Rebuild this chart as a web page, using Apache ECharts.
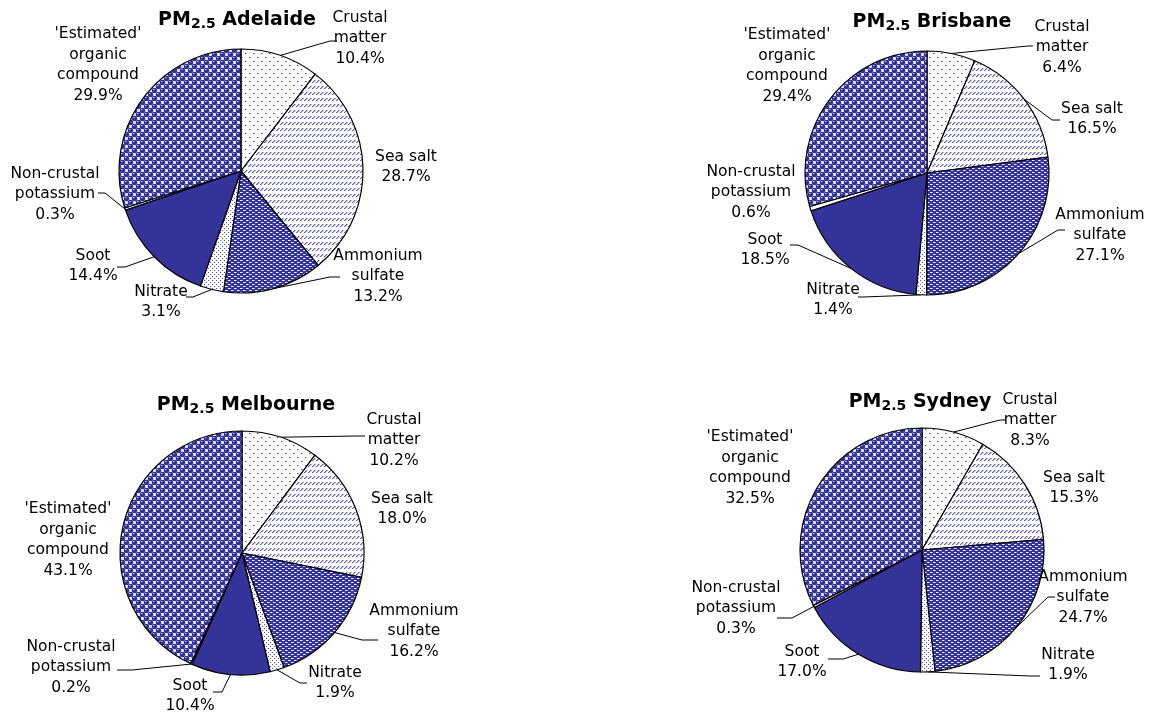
<!DOCTYPE html>
<html>
<head>
<meta charset="utf-8">
<title>PM2.5 composition</title>
<script src="https://cdn.jsdelivr.net/npm/echarts/dist/echarts.min.js"></script>
<style>
  html, body { margin: 0; padding: 0; background: #ffffff; }
  #chart { width: 1150px; height: 715px; }
</style>
</head>
<body>
<div id="chart"></div>
<script>
// PM2.5 composition (% of mass) for four Australian cities
const components = [
  "Crustal\nmatter",
  "Sea salt",
  "Ammonium\nsulfate",
  "Nitrate",
  "Soot",
  "Non-crustal\npotassium",
  "'Estimated'\norganic\ncompound"
];
const cities = ["Adelaide", "Brisbane", "Melbourne", "Sydney"];
const adelaide  = [10.4, 28.7, 13.2, 3.1, 14.4, 0.3, 29.9];
const brisbane  = [6.4, 16.5, 27.1, 1.4, 18.5, 0.6, 29.4];
const melbourne = [10.2, 18.0, 16.2, 1.9, 10.4, 0.2, 43.1];
const sydney    = [8.3, 15.3, 24.7, 1.9, 17.0, 0.3, 32.5];
const cityValues = [adelaide, brisbane, melbourne, sydney];

// ---- layout: pie centres, title anchors, label anchors and leader-line bends ----
const RADIUS = 122;
const pieCenters = [[241, 171], [927, 173], [242, 553], [922, 550]];
const titleAnchors = [[237, 20], [932, 22], [246, 405], [920, 402]];
// per label: [centreX, centreY, bend point, end point] (no bend = no leader line)
const labelSpots = [
  [ [360, 38, [330, 41], [337, 41]],
    [406, 167],
    [378, 276, [330, 277], [340, 277]],
    [161, 302, [193, 297], [186, 297]],
    [93, 266, [125, 267], [117, 267]],
    [55, 194, [105, 193], [98, 193]],
    [98, 65] ],
  [ [1062, 47, [1028, 46], [1033, 46]],
    [1092, 119, [1052, 120], [1060, 120]],
    [1100, 235, [1058, 230], [1065, 230]],
    [833, 300, [863, 297], [858, 297]],
    [765, 250, [798, 245], [790, 245]],
    [751, 192],
    [787, 66] ],
  [ [394, 440, [357, 436], [365, 436]],
    [402, 509],
    [414, 631, [362, 640], [378, 640]],
    [335, 683, [300, 683], [307, 683]],
    [190, 696, [222, 692], [213, 692]],
    [71, 667, [132, 670], [117, 670]],
    [68, 540] ],
  [ [1030, 420, [1000, 420], [1006, 420]],
    [1074, 488],
    [1083, 597, [1048, 597], [1055, 597]],
    [1068, 665, [1030, 676], [1040, 676]],
    [802, 662, [843, 659], [828, 659]],
    [736, 608, [792, 618], [777, 618]],
    [750, 468] ]
];

// ---- fill patterns ----
const NAVY = '#333399';
function tile(w, h, draw) {
  const c = document.createElement('canvas');
  c.width = w; c.height = h;
  const g = c.getContext('2d');
  g.fillStyle = '#ffffff';
  g.fillRect(0, 0, w, h);
  draw(g);
  return { image: c, repeat: 'repeat' };
}
function px(g, color, pts) {
  g.fillStyle = color;
  pts.forEach(p => g.fillRect(p[0], p[1], 1, 1));
}
const fills = [
  // crustal matter: sparse dots
  tile(8, 8, g => {
    px(g, '#4646ad', [[1, 1], [5, 5]]);
    px(g, '#a9a9dc', [[2, 1], [6, 5]]);
  }),
  // sea salt: rows of short slashes
  tile(4, 6, g => {
    px(g, '#5f5fc2', [[0, 4], [1, 3], [2, 2]]);
    px(g, '#b0b0e4', [[1, 4], [2, 3], [3, 2]]);
  }),
  // ammonium sulfate: navy with light dashes
  tile(6, 4, g => {
    g.fillStyle = NAVY; g.fillRect(0, 0, 6, 4);
    px(g, '#f0f0ff', [[0, 0], [1, 0], [3, 2], [4, 2]]);
    px(g, '#9a9ad6', [[2, 0], [5, 2]]);
  }),
  // nitrate: dense dots
  tile(4, 4, g => px(g, '#4f4fb3', [[0, 0], [2, 2]])),
  // soot: solid
  NAVY,
  // non-crustal potassium: plain
  '#ffffff',
  // organic compound: beads on a checker
  tile(8, 8, g => {
    g.fillStyle = NAVY;
    [[2.5, 2.5], [6.5, 6.5], [-1.5, 6.5], [6.5, -1.5], [-1.5, -1.5], [6.5, 10.5], [10.5, 6.5], [2.5, 10.5], [10.5, 2.5], [10.5, 10.5]].forEach(c => {
      g.beginPath(); g.arc(c[0], c[1], 2.75, 0, Math.PI * 2); g.fill();
    });
    px(g, '#c4c4f2', [[1, 1], [5, 5]]);
    px(g, '#7c7cc8', [[2, 1], [6, 5]]);
  })
];

const FONT = 'DejaVu Sans';

const series = cityValues.map((vals, s) => ({
  type: 'pie',
  center: pieCenters[s],
  radius: RADIUS,
  startAngle: 90,
  clockwise: true,
  avoidLabelOverlap: false,
  minShowLabelAngle: 0,
  silent: true,
  animation: false,
  itemStyle: { borderColor: '#000000', borderWidth: 1.2 },
  label: {
    show: true,
    position: 'outside',
    color: '#000000',
    fontFamily: FONT,
    fontSize: 15.5,
    lineHeight: 20.5,
    align: 'center',
    formatter: p => p.name + '\n' + Number(p.value).toFixed(1) + '%'
  },
  labelLine: { show: true, lineStyle: { color: '#000000', width: 1 } },
  labelLayout: p => {
    const spot = labelSpots[s][p.dataIndex];
    const out = { x: spot[0], y: spot[1], align: 'center', verticalAlign: 'middle' };
    if (spot[2] && p.labelLinePoints) {
      out.labelLinePoints = [p.labelLinePoints[0], spot[2], spot[3]];
    }
    return out;
  },
  data: vals.map((v, i) => ({
    name: components[i],
    value: v,
    itemStyle: { color: fills[i] },
    labelLine: { show: !!labelSpots[s][i][2] }
  }))
}));

const titles = cities.map((c, i) => ({
  text: '{m|PM}{s|2.5}{m| ' + c + '}',
  left: titleAnchors[i][0],
  top: titleAnchors[i][1],
  textAlign: 'center',
  textVerticalAlign: 'middle',
  padding: 0,
  textStyle: {
    rich: {
      m: { fontFamily: FONT, fontWeight: 'bold', fontSize: 19, color: '#000000', lineHeight: 22 },
      s: { fontFamily: FONT, fontWeight: 'bold', fontSize: 14, color: '#000000', lineHeight: 10, verticalAlign: 'bottom' }
    }
  }
}));

const chart = echarts.init(document.getElementById('chart'), null, { renderer: 'canvas' });
chart.setOption({
  backgroundColor: '#ffffff',
  animation: false,
  title: titles,
  series: series
});
</script>
</body>
</html>
